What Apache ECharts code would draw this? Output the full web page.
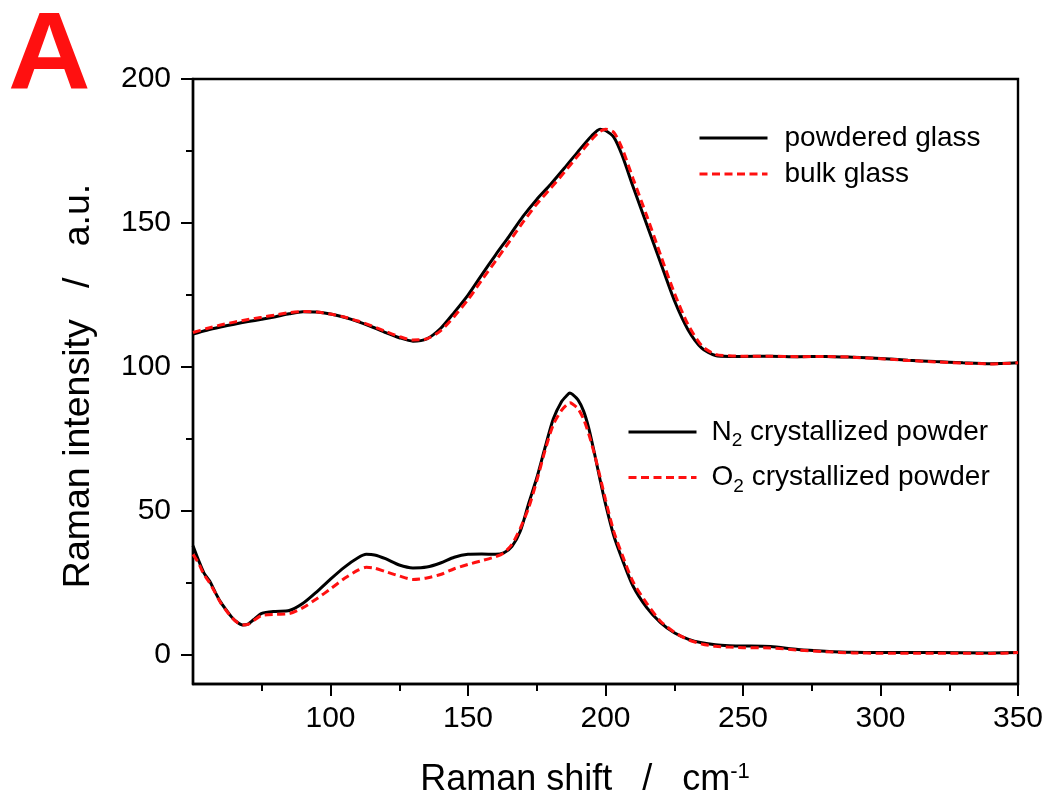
<!DOCTYPE html>
<html><head><meta charset="utf-8">
<script src="https://cdn.jsdelivr.net/npm/echarts@6/dist/echarts.min.js"></script>
<style>html,body{margin:0;padding:0;background:#fff}#c{width:1050px;height:802px}</style>
</head><body><div id="c"></div>
<script>
// ---- data ----
const glassX = [50,55,60,65,70,75,80,85,90,95,100,105,110,115,120,125,130,135,140,145,150,155,160,165,170,175,180,185,190,195,198,200,203,206,210,215,220,225,230,235,240,245,250,260,270,280,290,300,310,320,330,340,350];
const powderedGlass = [111.5,112.8,113.9,114.9,115.8,116.6,117.5,118.5,119.2,119.1,118.4,117.3,115.8,114,112,110.2,109,109.8,113.4,119,125,132,138.9,145.5,152.3,158.2,163.4,169,174.8,180.3,182.6,182.1,179.8,173.6,162.7,149.5,136.3,123.2,113,106.6,104,103.7,103.7,103.8,103.6,103.7,103.4,103,102.4,101.9,101.5,101.2,101.5];
const bulkGlass = [112,113.4,114.6,115.6,116.5,117.3,118.1,118.9,119.3,119.1,118.4,117.4,116,114.3,112.4,110.6,109.4,109.8,112.6,117.6,123.4,130.2,136.8,143.5,150.3,156.6,162,167.6,173.4,179,181.8,182.6,181.5,176,165.5,152.5,139,125.8,114.8,107.4,104.4,103.9,103.8,103.8,103.6,103.7,103.4,102.9,102.3,101.8,101.4,101.1,101.5];
const crystX = [50,52,54,56,58,60,62,64,66,68,70,72,75,80,85,90,95,100,105,110,113,116,120,125,130,135,140,145,150,155,160,163,166,169,172,175,178,181,184,186,187,188,190,192,194,196,198,200,203,206,210,215,220,225,230,235,240,245,250,260,270,280,290,300,320,340,350];
const n2Powder = [38,33,28.5,25.8,22,18.5,15.8,13.3,11.5,10.5,10.8,12.3,14.5,15.2,15.5,18,22,26.4,30.5,33.8,35,34.8,33.5,31.3,30.3,30.6,32,34,35,35.1,35,35.5,37.8,43,52.5,61.5,72,82,88,90.2,91,90.5,88.6,84.8,78.5,70,61,52.5,41.5,33.5,24,16.5,11.3,7.8,5.6,4.3,3.6,3.3,3.2,3.0,2.0,1.4,1.0,0.9,0.9,0.8,0.9];
const o2Powder = [35,32,28,25.2,21.8,18.3,15.6,13.2,11.4,10.5,10.7,12,13.8,14.2,14.4,16.5,19.6,23,26.6,29.5,30.5,30.2,29,27.5,26.3,26.8,28,30,31.5,32.8,34.2,35.5,38.5,44,51,60.5,71,80,85,87,87.6,87.2,85.6,82,76.5,69.8,62,54,43,35,25.5,18,11.8,8,5.4,3.9,3.1,2.8,2.6,2.5,1.8,1.2,0.8,0.7,0.7,0.6,0.9];
const xTicks = [100,150,200,250,300,350];
const xMinorTicks = [75,125,175,225,275,325];
const yTicks = [0,50,100,150,200];
const yMinorTicks = [25,75,125,175];
const seriesNames = ['powdered glass','bulk glass','N2 crystallized powder','O2 crystallized powder'];

const FONT = '"Liberation Sans", Arial, Helvetica, sans-serif';
const pairs = (xs, ys) => xs.map((x, i) => [x, ys[i]]);

const chart = echarts.init(document.getElementById('c'), null, {renderer: 'canvas'});
const solid = {color: '#000', width: 3, type: 'solid'};
const dashed = {color: '#ff1010', width: 3, type: [8, 4.5]};
const mkSeries = (name, data, ls) => ({
  name, type: 'line', data, xAxisIndex: 0, yAxisIndex: 0,
  showSymbol: false, symbol: 'none', smooth: 0.25,
  lineStyle: ls, itemStyle: {color: ls.color}, z: ls.type === 'solid' ? 2 : 3
});

const subFmt = n => n.replace(/^([NO])2/, '$1{sub|2}');
const hiddenSym = {color: 'transparent', borderColor: 'transparent', borderWidth: 0, opacity: 0};

chart.setOption({
  animation: false,
  backgroundColor: '#fff',
  grid: {left: 193, right: 32, top: 79, bottom: 118, show: true, borderColor: '#000', borderWidth: 2.4, backgroundColor: 'transparent'},
  xAxis: [
    {type: 'value', min: 50, max: 350, position: 'bottom',
     axisLine: {show: true, onZero: false, lineStyle: {color: '#000', width: 2.4}},
     axisTick: {show: true, customValues: xTicks, length: 12, inside: false, lineStyle: {color: '#000', width: 2}},
     axisLabel: {customValues: xTicks, color: '#000', fontSize: 30, fontFamily: FONT, margin: 20},
     splitLine: {show: false}},
    {type: 'value', min: 50, max: 350, position: 'bottom',
     axisLine: {show: false, onZero: false},
     axisTick: {show: true, customValues: xMinorTicks, length: 7, lineStyle: {color: '#000', width: 2}},
     axisLabel: {show: false}, splitLine: {show: false}}
  ],
  yAxis: [
    {type: 'value', min: -10, max: 200, position: 'left',
     axisLine: {show: true, onZero: false, lineStyle: {color: '#000', width: 2.4}},
     axisTick: {show: true, customValues: yTicks, length: 12, lineStyle: {color: '#000', width: 2}},
     axisLabel: {customValues: yTicks, color: '#000', fontSize: 30, fontFamily: FONT, margin: 22},
     splitLine: {show: false}},
    {type: 'value', min: -10, max: 200, position: 'left',
     axisLine: {show: false, onZero: false},
     axisTick: {show: true, customValues: yMinorTicks, length: 7, lineStyle: {color: '#000', width: 2}},
     axisLabel: {show: false}, splitLine: {show: false}}
  ],
  legend: [
    {data: seriesNames.slice(0, 2), orient: 'vertical', left: 693, top: 117,
     itemWidth: 68, itemHeight: 14, itemGap: 4, itemStyle: hiddenSym, lineStyle: {width: 3},
     textStyle: {fontSize: 28, fontFamily: FONT, color: '#000', lineHeight: 32, padding: [0, 0, 0, 12]}},
    {data: seriesNames.slice(2, 4), orient: 'vertical', left: 622, top: 411,
     itemWidth: 68, itemHeight: 14, itemGap: 11, itemStyle: hiddenSym, lineStyle: {width: 3},
     formatter: subFmt,
     textStyle: {fontSize: 28, fontFamily: FONT, color: '#000', lineHeight: 32, padding: [0, 0, 0, 10],
       rich: {sub: {fontSize: 19, fontFamily: FONT, color: '#000', padding: [18, 0, 0, 0]}}}}
  ],
  series: [
    mkSeries(seriesNames[0], pairs(glassX, powderedGlass), solid),
    mkSeries(seriesNames[1], pairs(glassX, bulkGlass), dashed),
    mkSeries(seriesNames[2], pairs(crystX, n2Powder), solid),
    mkSeries(seriesNames[3], pairs(crystX, o2Powder), dashed)
  ],
  graphic: [
    {type: 'text', left: 8, top: 3, scaleX: 1.04,
     style: {text: 'A', fill: '#ff1010', font: 'bold 110px ' + FONT}},
    {type: 'text', x: 585, y: 780,
     style: {text: 'Raman shift   /   cm{sup|-1}', fill: '#000', font: '36px ' + FONT,
       align: 'center', verticalAlign: 'middle',
       rich: {sup: {fontSize: 22, fontFamily: FONT, fill: '#000', padding: [0, 0, 16, 0]}}}},
    {type: 'text', x: 79, y: 386, rotation: Math.PI / 2,
     style: {text: 'Raman intensity   /   a.u.', fill: '#000', font: '37.5px ' + FONT,
       align: 'center', verticalAlign: 'middle'}}
  ]
});
</script></body></html>
